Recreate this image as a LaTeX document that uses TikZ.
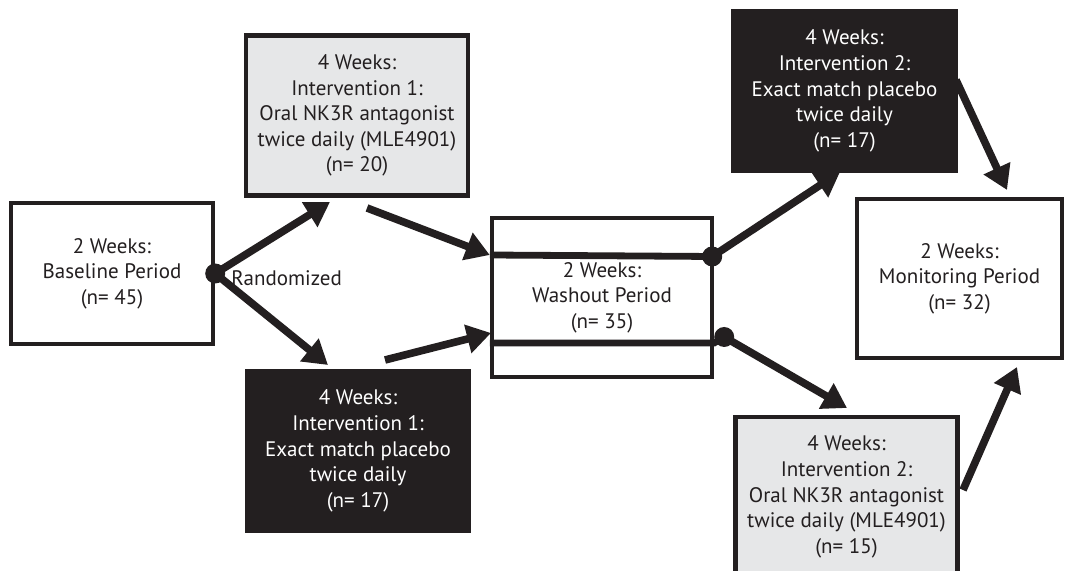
\documentclass[tikz,border=0pt]{standalone}
\usepackage{fontspec}
\setmainfont{PT Sans}
\usepackage{tikz}
\usetikzlibrary{calc, arrows.meta}
\usepackage{xcolor}
\definecolor{inkblack}{HTML}{231F20}
\definecolor{boxgray}{HTML}{E6E7E8}

\begin{document}
\begin{tikzpicture}[
    x=0.5pt, y=0.5pt,
    period/.style={rectangle, draw=inkblack, fill=white, line width=2.2pt, minimum width=111pt, minimum height=80pt, align=center, inner sep=0pt, text=inkblack, font=\fontsize{10.5}{12.8}\selectfont},
    drug/.style={period, fill=boxgray},
    placebo/.style={period, fill=inkblack, text=white},
    arrow/.style={-{Triangle[length=12pt, width=14pt]}, line width=3.8pt, inkblack},
    split/.style={line width=3.4pt, inkblack},
    dot/.style={circle, fill=inkblack, inner sep=0pt, minimum size=10pt}
]
    \useasboundingbox (0,0) rectangle (1069,571);

    % Baseline & randomisation
    \node[period, minimum width=101pt, minimum height=70.5pt] (base) at (112,297.5) {2 Weeks:\\ Baseline Period\\ (n= 45)};
    \node[dot] (rand) at (base.east) {};
    \node[anchor=west, inner sep=0pt, text=inkblack, font=\fontsize{10.5}{12.8}\selectfont] (randlbl) at (231,293) {Randomized};

    % Intervention 1
    \node[drug] (int1a) at (357,455.5) {4 Weeks:\\ Intervention 1:\\ Oral NK3R antagonist\\ twice daily (MLE4901)\\ (n= 20)};
    \node[placebo] (int1b) at (358,120) {4 Weeks:\\ Intervention 1:\\ Exact match placebo\\ twice daily\\ (n= 17)};

    % Washout
    \node[period, minimum width=110pt, minimum height=79.5pt] (wash) at (602,273.5) {2 Weeks:\\ Washout Period\\ (n= 35)};
    \coordinate (washtopin) at ($(wash.west)+(0,42.5)$);
    \coordinate (washbotin) at ($(wash.west)+(0,-45.5)$);
    \coordinate (washbotout) at ($(wash.east)+(0,-45.5)$);
    \node[dot] (splittop) at ($(wash.east)+(-2,41)$) {};
    \node[dot] (splitbot) at ($(wash.east)+(10,-39.5)$) {};
    \draw[split] (washtopin) -- (splittop.center);
    \draw[split] (washbotin) -- (washbotout) -- (splitbot.center);

    % Intervention 2
    \node[placebo] (int2a) at (844.5,480) {4 Weeks:\\ Intervention 2:\\ Exact match placebo\\ twice daily\\ (n= 17)};
    \node[drug] (int2b) at (846.5,74) {4 Weeks:\\ Intervention 2:\\ Oral NK3R antagonist\\ twice daily (MLE4901)\\ (n= 15)};

    % Monitoring
    \node[period, minimum width=102.5pt, minimum height=79.5pt] (mon) at (959.5,292.5) {2 Weeks:\\ Monitoring Period\\ (n= 32)};

    % Arrow ends
    \coordinate (int1aend) at (330,369);
    \coordinate (int1bend) at (328,206);
    \coordinate (int1aout) at (367,363);
    \coordinate (int1bout) at (385,211);
    \coordinate (washbotend) at (491,238);
    \coordinate (int2aend) at (840,399);
    \coordinate (int2bend) at (847,163);
    \coordinate (int2aout) at (956,491);
    \coordinate (int2bout) at (963,81);
    \coordinate (montopend) at (1007,381);
    \coordinate (monbotend) at (1017,204);

    % Connections
    \draw[arrow] (rand.center) -- (int1aend);
    \draw[arrow] (rand.center) -- (int1bend);
    \draw[arrow] (int1aout) -- (washtopin);
    \draw[arrow] (int1bout) -- (washbotend);
    \draw[arrow] (splittop.center) -- (int2aend);
    \draw[arrow] (splitbot.center) -- (int2bend);
    \draw[arrow] (int2aout) -- (montopend);
    \draw[arrow] (int2bout) -- (monbotend);
\end{tikzpicture}
\end{document}
